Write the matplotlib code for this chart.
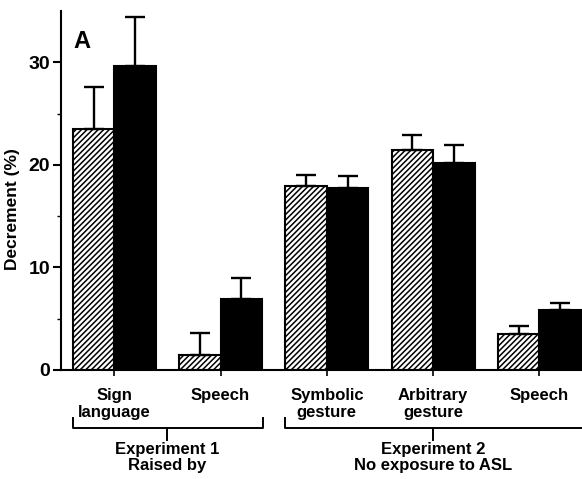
import matplotlib.pyplot as plt
import numpy as np
from matplotlib.transforms import blended_transform_factory

# Data
categories = ["Sign\nlanguage", "Speech", "Symbolic\ngesture", "Arbitrary\ngesture", "Speech"]
hatched_vals = [23.5, 1.5, 17.9, 21.4, 3.5]
hatched_err = [4.1, 2.1, 1.1, 1.5, 0.8]
solid_vals = [29.6, 6.9, 17.7, 20.2, 5.8]
solid_err = [4.8, 2.1, 1.2, 1.7, 0.7]
groups = ["Experiment 1\nRaised by", "Experiment 2\nNo exposure to ASL"]
group_spans = [(-0.39, 1.40, 0.5), (1.61, 4.42, 3.0)]

font = ["Liberation Sans Narrow", "Liberation Sans", "DejaVu Sans"]
plt.rcParams["font.family"] = font
plt.rcParams["font.weight"] = "bold"
plt.rcParams["hatch.linewidth"] = 1.1

fig = plt.figure(figsize=(5.82, 4.79), dpi=100)
ax = fig.add_axes([0.105, 0.2276, 0.895, 0.7494])

x = np.arange(len(categories))
w = 0.39
ax.bar(x - w / 2, hatched_vals, w, color="white", edgecolor="black",
       hatch="//////", linewidth=1.5)
ax.bar(x + w / 2, solid_vals, w, color="black", edgecolor="black", linewidth=1.5)
ax.errorbar(x - w / 2, hatched_vals, yerr=[np.zeros(5), hatched_err], fmt="none",
            ecolor="black", elinewidth=1.7, capsize=7, capthick=1.7)
ax.errorbar(x + w / 2, solid_vals, yerr=[np.zeros(5), solid_err], fmt="none",
            ecolor="black", elinewidth=1.7, capsize=7, capthick=1.7)

ax.set_xlim(-0.5, 4.4)
ax.set_ylim(0, 35)
ax.spines["top"].set_visible(False)
ax.spines["right"].set_visible(False)
ax.spines["left"].set_linewidth(1.5)
ax.spines["bottom"].set_linewidth(1.5)

ax.set_yticks([0, 10, 20, 30])
ax.set_yticks([5, 15, 25], minor=True)
ax.tick_params(axis="y", which="major", length=6, width=1.5, labelsize=14, pad=2)
ax.tick_params(axis="y", which="minor", length=3, width=1.0)
ax.set_xticks(x)
ax.set_xticklabels(categories, fontsize=12, fontweight="bold", linespacing=1.15)
ax.tick_params(axis="x", length=4, width=1.2, pad=9)
ax.set_ylabel("Decrement (%)", fontsize=12.5, fontweight="bold")
ax.yaxis.set_label_coords(-0.079, 0.448)

ax.text(-0.38, 32.0, "A", fontsize=17, fontweight="bold", ha="left", va="center")

# group brackets below the axis
tr = blended_transform_factory(ax.transData, fig.transFigure)
y_line = 0.1065
for (x0, x1, xc), label in zip(group_spans, groups):
    ax.plot([x0, x0, x1, x1], [y_line + 0.02, y_line, y_line, y_line + 0.02],
            color="black", lw=1.4, transform=tr, clip_on=False)
    ax.plot([xc, xc], [y_line, y_line - 0.026], color="black", lw=1.4,
            transform=tr, clip_on=False)
    ax.text(xc, y_line - 0.03, label, transform=tr, ha="center", va="top",
            fontsize=12, fontweight="bold", linespacing=1.05)

fig.savefig("out.png", dpi=100)
